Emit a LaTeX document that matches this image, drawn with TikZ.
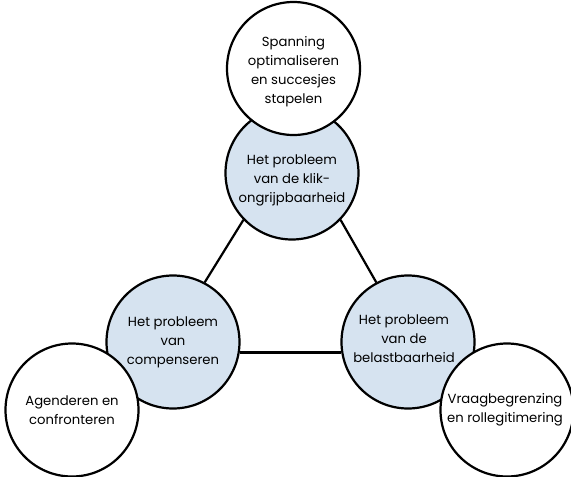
\documentclass[tikz,border=0pt]{standalone}
\usepackage{fontspec}
\setmainfont{Poppins}
\definecolor{paleblue}{RGB}{214,227,240}
\tikzset{
  bubtext/.style={align=center, font=\fontsize{13.2}{19}\selectfont, inner sep=0pt},
  bub/.style={circle, draw=black, line width=2.2pt, minimum size=133pt, inner sep=0pt, bubtext},
  bluebub/.style={bub, fill=paleblue},
  whitebub/.style={bub, fill=white},
  link/.style={line width=2.2pt, draw=black}
}
\begin{document}
\begin{tikzpicture}[x=1pt,y=1pt]
\useasboundingbox (0,0) rectangle (571,-477);
\node[bluebub, label={[bubtext, yshift=-7pt]center:{Het probleem\\van de klik-\\ongrijpbaarheid}}] (tb) at (292,-173) {};
\node[bluebub] (lb) at (173,-342) {Het probleem\\van\\compenseren};
\node[bluebub, label={[bubtext, xshift=-4pt, yshift=3pt]center:{Het probleem\\van de\\belastbaarheid}}] (rb) at (408,-342) {};
\node[whitebub, label={[bubtext, yshift=-3pt]center:{Spanning\\optimaliseren\\en succesjes\\stapelen}}] (tw) at (293.5,-68.5) {};
\node[whitebub] (lw) at (72,-410) {Agenderen en\\confronteren};
\node[whitebub, label={[bubtext, xshift=-2pt]center:{Vraagbegrenzing\\en rollegitimering}}] (rw) at (507,-410) {};
\draw[link] (tb.-136) -- (lb.62);
\draw[link] (tb.-44) -- (rb.118);
\draw[link] (lb.-9) -- (rb.189);
\end{tikzpicture}
\end{document}
